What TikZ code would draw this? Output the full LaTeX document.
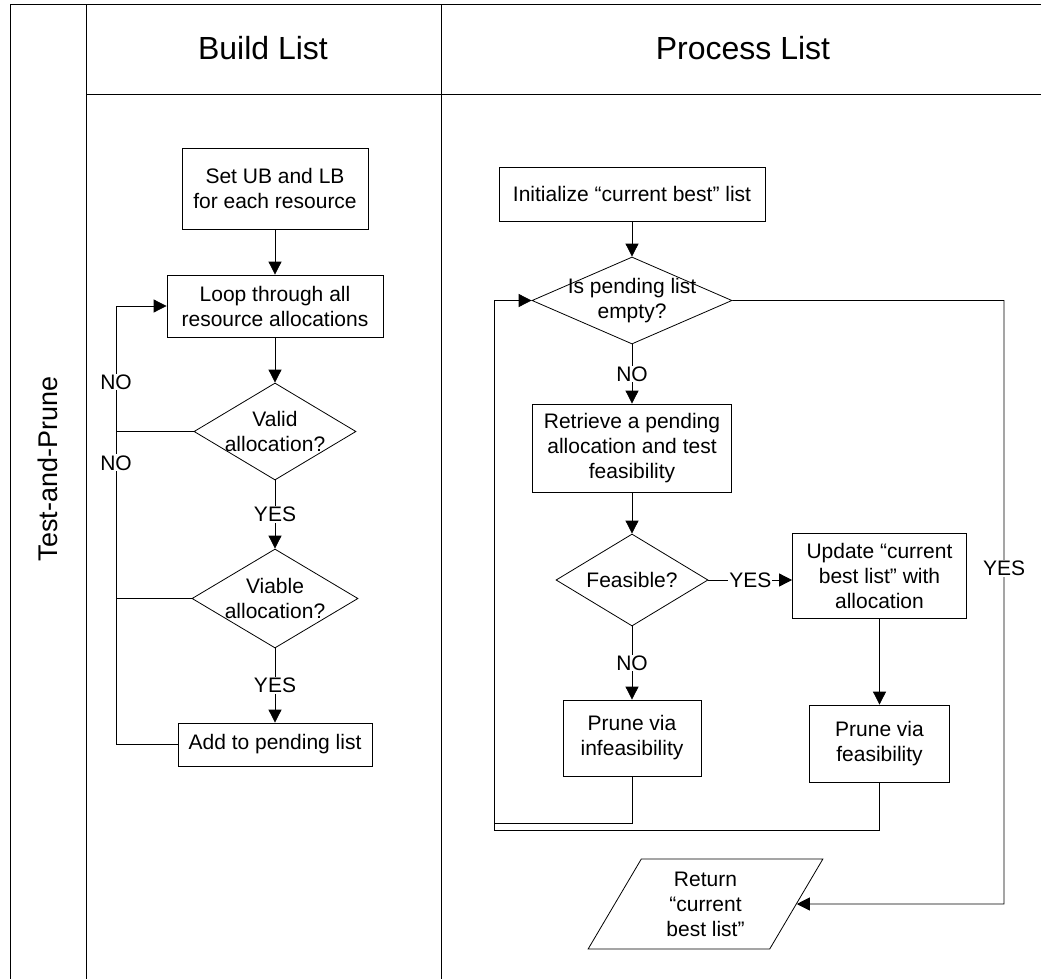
\documentclass[tikz,border=0pt]{standalone}
\usepackage{fontspec}
\setmainfont{Liberation Sans}
\usetikzlibrary{arrows.meta}
\usetikzlibrary{quotes}
\usetikzlibrary{shapes.geometric}

\begin{document}
\begin{tikzpicture}[x=1pt,y=-1pt,line width=0.8pt,font=\fontsize{21}{25}\selectfont,
    every edge quotes/.style={fill=white,inner sep=1pt},
    flow/.style={-{Triangle[length=13pt,width=13pt]}},
    box/.style={draw,rectangle,align=center,inner sep=0pt},
    dec/.style={draw,diamond,align=center,inner sep=0pt},
    io/.style={draw,trapezium,trapezium left angle=63.4,trapezium right angle=116.6,trapezium stretches=true,align=center,inner sep=0pt},
    lbl/.style={fill=white,inner sep=1pt}]
    \useasboundingbox (0,0) rectangle (1041,979);
    %lanes
    \draw[line width=1pt] (1041,5) -- (10,5) -- (10,979);
    \draw[line width=1pt] (86,5) -- (86,979);
    \draw[line width=1pt] (441,5) -- (441,979);
    \draw[line width=1pt] (86,95) -- (1041,95);
    \node[font=\fontsize{27}{32}\selectfont,rotate=90] (lane) at (48,469) {Test-and-Prune};
    \node[font=\fontsize{32}{38}\selectfont] (build) at (263,48) {Build List};
    \node[font=\fontsize{32}{38}\selectfont] (proc) at (743,48) {Process List};
    %build list
    \node[box,minimum width=186pt,minimum height=81pt] (set) at (275,188.5) {Set UB and LB\\for each resource};
    \node[box,minimum width=216pt,minimum height=62pt] (loop) at (275,306) {Loop through all\\resource allocations};
    \node[dec,minimum width=162pt,minimum height=97pt] (valid) at (275,431.5) {\makebox[0pt]{Valid}\\\makebox[0pt]{allocation?}};
    \node[dec,minimum width=166pt,minimum height=99pt] (viable) at (275,598.5) {\makebox[0pt]{Viable}\\\makebox[0pt]{allocation?}};
    \node[box,minimum width=194pt,minimum height=43pt] (add) at (275,744.5) {Add to pending list};
    \coordinate (bk) at (116,306);
    \draw (set) edge[flow] (loop);
    \draw (loop) edge[flow] (valid);
    \draw (valid) edge["YES",flow] (viable);
    \draw (viable) edge["YES",flow] (add);
    \draw[flow] (add.west) -| (bk) -- (loop.west);
    \draw (viable.west) -| (bk) node[lbl,pos=0.732] {NO};
    \draw (valid.west) -| (bk) node[lbl,pos=0.697] {NO};
    %process list
    \node[box,minimum width=266pt,minimum height=54pt] (init) at (632,194) {Initialize ``current best'' list};
    \node[dec,minimum width=200pt,minimum height=87pt] (pend) at (632,300.5) {\makebox[0pt]{Is pending list}\\\makebox[0pt]{empty?}};
    \node[box,minimum width=199pt,minimum height=88pt] (retr) at (632,448) {Retrieve a pending\\allocation and test\\feasibility};
    \node[dec,minimum width=152pt,minimum height=92pt] (feas) at (632,580) {\makebox[0pt]{Feasible?}};
    \node[box,minimum width=174pt,minimum height=85pt] (upd) at (879.5,576) {Update ``current\\best list'' with\\allocation};
    \node[box,minimum width=138pt,minimum height=76pt] (pinf) at (632,738) {Prune via\\infeasibility};
    \node[box,minimum width=140pt,minimum height=77pt] (pfeas) at (879.5,743.5) {Prune via\\feasibility};
    \node[io,minimum width=235pt,minimum height=90pt] (ret) at (705.5,904) {Return\\``current\\best list''};
    \coordinate (bk2) at (494,300.5);
    \coordinate (rt) at (1004,904);
    \draw (init) edge[flow] (pend);
    \draw (pend) edge["NO",flow] (retr);
    \draw (retr) edge[flow] (feas);
    \draw (feas.east) edge["YES",flow] (feas.east -| upd.west);
    \draw (feas) edge["NO",flow] (pinf);
    \draw (upd) edge[flow] (pfeas);
    \draw[flow] (pinf.south) -- ++(0,47) -| (bk2) -- (pend.west);
    \draw (pfeas.south) -- ++(0,48) -| (bk2);
    \draw[flow] (pend.east) -| (rt) node[lbl,pos=0.722] {YES} -- (ret.east);
\end{tikzpicture}
\end{document}
